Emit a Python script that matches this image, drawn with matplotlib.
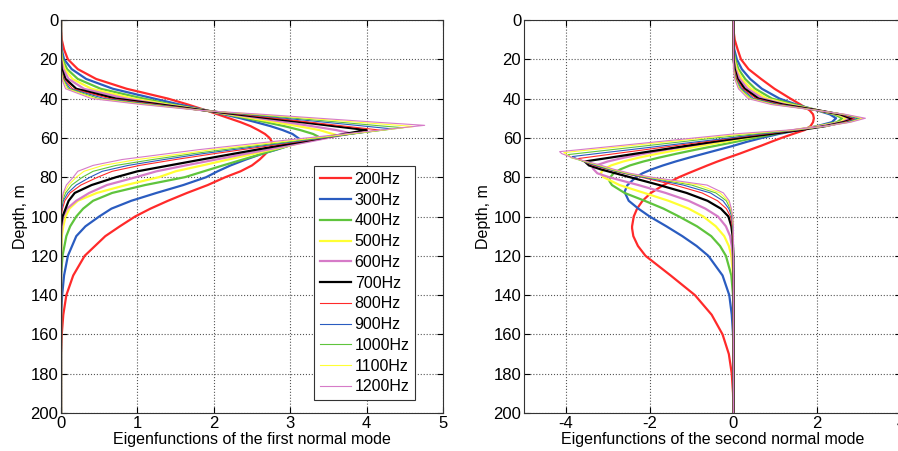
import matplotlib.pyplot as plt

plt.rcParams['font.family'] = ['Liberation Sans', 'DejaVu Sans']
plt.rcParams['axes.unicode_minus'] = False

freqs = ['200Hz', '300Hz', '400Hz', '500Hz', '600Hz', '700Hz',
         '800Hz', '900Hz', '1000Hz', '1100Hz', '1200Hz']
colors = ['#ff2a2a', '#2a5cc0', '#5fc43c', '#ffff33', '#d67bc8', '#000000',
          '#ff2a2a', '#2a5cc0', '#5fc43c', '#ffff33', '#d67bc8']
widths = [1.6, 1.6, 1.6, 1.6, 1.6, 1.6, 0.8, 0.8, 0.8, 0.8, 0.8]

# first mode, depth grid (m) and values
depth1 = [0, 5, 10, 15, 20, 25, 30, 35, 40, 43, 46, 48, 50, 52, 54, 56, 58, 60, 62, 64,
          66, 68, 71, 74, 77, 80, 84, 88, 92, 96, 100, 105, 110, 120, 130, 140, 150, 160, 170, 200]
m1_200 = [0, 0, 0.01, 0.04, 0.09, 0.22, 0.46, 0.86, 1.4, 1.66, 1.9, 2.05, 2.2, 2.35, 2.48, 2.58, 2.67, 2.73, 2.76, 2.75,
          2.72, 2.68, 2.6, 2.5, 2.35, 2.15, 1.92, 1.65, 1.4, 1.17, 0.97, 0.77, 0.58, 0.31, 0.16, 0.07, 0.03, 0.01, 0, 0]
m1_300 = [0, 0, 0, 0.01, 0.04, 0.14, 0.33, 0.68, 1.22, 1.55, 1.9, 2.13, 2.35, 2.55, 2.74, 2.9, 3.03, 3.1, 3.08, 2.98,
          2.82, 2.64, 2.42, 2.22, 2.05, 1.9, 1.6, 1.25, 0.92, 0.66, 0.5, 0.32, 0.2, 0.09, 0.04, 0.015, 0, 0, 0, 0]
m1_400 = [0, 0, 0, 0, 0.02, 0.08, 0.22, 0.52, 1.08, 1.45, 1.9, 2.17, 2.43, 2.68, 2.92, 3.13, 3.3, 3.36, 3.15, 2.98,
          2.81, 2.64, 2.38, 2.12, 1.87, 1.62, 1.1, 0.67, 0.42, 0.29, 0.2, 0.12, 0.07, 0.02, 0, 0, 0, 0, 0, 0]
m1_500 = [0, 0, 0, 0, 0.01, 0.05, 0.15, 0.4, 0.95, 1.4, 1.88, 2.2, 2.5, 2.8, 3.1, 3.38, 3.58, 3.43, 3.2, 2.98,
          2.75, 2.53, 2.19, 1.85, 1.5, 1.28, 0.85, 0.47, 0.22, 0.11, 0.06, 0.03, 0.01, 0, 0, 0, 0, 0, 0, 0]
m1_600 = [0, 0, 0, 0, 0, 0.03, 0.1, 0.3, 0.85, 1.33, 1.88, 2.25, 2.6, 2.95, 3.28, 3.6, 3.8, 3.49, 3.23, 2.96,
          2.7, 2.43, 2.03, 1.63, 1.25, 0.98, 0.6, 0.37, 0.2, 0.08, 0.03, 0.01, 0, 0, 0, 0, 0, 0, 0, 0]
m1_700 = [0, 0, 0, 0, 0, 0.01, 0.06, 0.2, 0.72, 1.3, 1.87, 2.3, 2.72, 3.15, 3.57, 4.0, 3.71, 3.42, 3.14, 2.85,
          2.56, 2.27, 1.84, 1.42, 1.0, 0.72, 0.4, 0.18, 0.1, 0.06, 0.02, 0, 0, 0, 0, 0, 0, 0, 0, 0]
m1_800 = [0, 0, 0, 0, 0, 0, 0.04, 0.15, 0.64, 1.25, 1.86, 2.35, 2.8, 3.26, 3.71, 4.17, 3.81, 3.45, 3.09, 2.73,
          2.37, 2.01, 1.5, 1.03, 0.67, 0.48, 0.26, 0.12, 0.05, 0.02, 0, 0, 0, 0, 0, 0, 0, 0, 0, 0]
m1_900 = [0, 0, 0, 0, 0, 0, 0.03, 0.12, 0.57, 1.2, 1.85, 2.42, 2.93, 3.45, 3.97, 4.21, 3.82, 3.43, 3.04, 2.64,
          2.25, 1.86, 1.35, 0.88, 0.54, 0.38, 0.2, 0.09, 0.03, 0.01, 0, 0, 0, 0, 0, 0, 0, 0, 0, 0]
m1_1000 = [0, 0, 0, 0, 0, 0, 0.02, 0.1, 0.5, 1.15, 1.84, 2.48, 3.06, 3.64, 4.22, 4.23, 3.81, 3.39, 2.97, 2.55,
           2.13, 1.73, 1.2, 0.72, 0.42, 0.28, 0.14, 0.06, 0.02, 0, 0, 0, 0, 0, 0, 0, 0, 0, 0, 0]
m1_1100 = [0, 0, 0, 0, 0, 0, 0.02, 0.08, 0.45, 1.1, 1.83, 2.56, 3.22, 3.88, 4.55, 4.22, 3.77, 3.32, 2.87, 2.42,
           1.97, 1.6, 1.0, 0.55, 0.3, 0.2, 0.1, 0.04, 0.01, 0, 0, 0, 0, 0, 0, 0, 0, 0, 0, 0]
m1_1200 = [0, 0, 0, 0, 0, 0, 0.01, 0.06, 0.4, 1.05, 1.82, 2.64, 3.38, 4.12, 4.69, 4.18, 3.7, 3.22, 2.74, 2.26,
           1.8, 1.4, 0.8, 0.42, 0.22, 0.16, 0.07, 0.03, 0.01, 0, 0, 0, 0, 0, 0, 0, 0, 0, 0, 0]
peak1_depth = [62, 60.5, 59.4, 58.5, 57.7, 56, 56, 55.4, 54.8, 54.2, 53.6]
peak1_value = [2.76, 3.12, 3.37, 3.6, 3.8, 4.0, 4.17, 4.33, 4.48, 4.62, 4.76]

# second mode
depth2 = [0, 5, 10, 15, 20, 25, 30, 35, 40, 43, 46, 48, 50, 52, 54, 56, 58, 60, 62, 64, 66, 68, 70,
          72, 74, 76, 78, 80, 84, 88, 92, 96, 100, 105, 110, 115, 120, 130, 140, 150, 160, 170, 180, 190, 200]
m2_200 = [0, 0, 0.03, 0.1, 0.18, 0.36, 0.66, 0.98, 1.36, 1.6, 1.82, 1.9, 1.92, 1.9, 1.84, 1.7, 1.42, 1.15, 0.9, 0.66,
          0.4, 0.15, -0.12, -0.38, -0.62, -0.85, -1.08, -1.3, -1.67, -1.97, -2.17, -2.3, -2.38, -2.42, -2.39, -2.28,
          -2.1, -1.5, -0.92, -0.52, -0.26, -0.11, -0.04, -0.01, 0]
m2_300 = [0, 0, 0, 0.02, 0.08, 0.2, 0.4, 0.68, 1.1, 1.5, 2.0, 2.3, 2.45, 2.35, 2.0, 1.55, 1.08, 0.68, 0.32, 0.0,
          -0.35, -0.7, -1.05, -1.38, -1.68, -1.95, -2.17, -2.33, -2.53, -2.6, -2.5, -2.27, -2.0, -1.6, -1.22, -0.88,
          -0.6, -0.26, -0.1, -0.04, -0.01, 0, 0, 0, 0]
m2_400 = [0, 0, 0, 0, 0.04, 0.12, 0.28, 0.52, 0.92, 1.45, 2.02, 2.4, 2.6, 2.47, 2.03, 1.5, 0.98, 0.5, 0.05, -0.42,
          -0.9, -1.35, -1.77, -2.15, -2.47, -2.7, -2.86, -2.94, -2.9, -2.6, -2.12, -1.67, -1.3, -0.87, -0.53, -0.32,
          -0.18, -0.05, -0.01, 0, 0, 0, 0, 0, 0]
m2_500 = [0, 0, 0, 0, 0.02, 0.08, 0.2, 0.42, 0.8, 1.35, 2.03, 2.47, 2.7, 2.55, 2.05, 1.45, 0.85, 0.3, -0.22, -0.77,
          -1.3, -1.8, -2.25, -2.63, -2.92, -3.1, -3.17, -3.1, -2.72, -2.13, -1.55, -1.07, -0.72, -0.42, -0.22, -0.11,
          -0.05, -0.01, 0, 0, 0, 0, 0, 0, 0]
m2_600 = [0, 0, 0, 0, 0.01, 0.05, 0.15, 0.34, 0.7, 1.25, 2.03, 2.52, 2.78, 2.6, 2.1, 1.45, 0.75, 0.15, -0.45, -1.03,
          -1.6, -2.12, -2.6, -3.0, -3.28, -3.36, -3.25, -2.97, -2.27, -1.62, -1.07, -0.67, -0.37, -0.18, -0.08, -0.04,
          -0.02, 0, 0, 0, 0, 0, 0, 0, 0]
m2_700 = [0, 0, 0, 0, 0, 0.03, 0.1, 0.27, 0.6, 1.18, 2.03, 2.55, 2.85, 2.62, 2.2, 1.6, 0.9, 0.18, -0.48, -1.1,
          -1.72, -2.33, -2.93, -3.55, -3.45, -3.17, -2.82, -2.47, -1.77, -1.12, -0.62, -0.3, -0.12, -0.05, -0.02, -0.01,
          0, 0, 0, 0, 0, 0, 0, 0, 0]
m2_800 = [0, 0, 0, 0, 0, 0.02, 0.08, 0.22, 0.54, 1.12, 2.02, 2.58, 2.9, 2.65, 2.2, 1.55, 0.75, 0.0, -0.7, -1.41,
          -2.11, -2.82, -3.6, -3.58, -3.35, -3.0, -2.62, -2.2, -1.4, -0.75, -0.38, -0.17, -0.07, -0.03, -0.01, 0,
          0, 0, 0, 0, 0, 0, 0, 0, 0]
m2_900 = [0, 0, 0, 0, 0, 0.01, 0.06, 0.19, 0.48, 1.06, 2.01, 2.61, 2.97, 2.7, 2.2, 1.5, 0.65, -0.08, -0.88, -1.67,
          -2.47, -3.27, -3.82, -3.58, -3.3, -2.98, -2.6, -2.15, -1.2, -0.55, -0.25, -0.11, -0.04, -0.02, 0, 0,
          0, 0, 0, 0, 0, 0, 0, 0, 0]
m2_1000 = [0, 0, 0, 0, 0, 0.01, 0.05, 0.16, 0.43, 1.0, 2.0, 2.63, 3.03, 2.75, 2.22, 1.45, 0.5, -0.42, -1.25, -2.08,
           -2.91, -3.74, -3.88, -3.56, -3.24, -2.94, -2.57, -2.08, -1.0, -0.42, -0.17, -0.08, -0.03, -0.01, 0, 0,
           0, 0, 0, 0, 0, 0, 0, 0, 0]
m2_1100 = [0, 0, 0, 0, 0, 0, 0.04, 0.14, 0.39, 0.95, 1.99, 2.65, 3.09, 2.78, 2.22, 1.4, 0.25, -0.68, -1.58, -2.48,
           -3.38, -4.0, -3.87, -3.53, -3.2, -2.9, -2.52, -2.02, -0.82, -0.32, -0.13, -0.06, -0.02, 0, 0, 0,
           0, 0, 0, 0, 0, 0, 0, 0, 0]
m2_1200 = [0, 0, 0, 0, 0, 0, 0.03, 0.12, 0.35, 0.9, 1.98, 2.67, 3.15, 2.8, 2.22, 1.3, 0.0, -0.92, -1.84, -2.76,
           -3.68, -4.1, -3.85, -3.5, -3.15, -2.85, -2.47, -1.95, -0.63, -0.24, -0.1, -0.05, -0.02, 0, 0, 0,
           0, 0, 0, 0, 0, 0, 0, 0, 0]
peak2_depth = [50, 50, 50, 50, 50, 50.5, 50.3, 50.2, 50, 50, 50]
peak2_value = [1.92, 2.45, 2.6, 2.7, 2.78, 2.85, 2.9, 2.97, 3.03, 3.09, 3.15]
trough2_depth = [106, 87.5, 82, 78, 75.5, 72, 70.5, 69.5, 68.5, 67.5, 67]
trough2_value = [-2.42, -2.6, -2.96, -3.17, -3.36, -3.55, -3.7, -3.85, -3.95, -4.05, -4.15]

mode1 = [m1_200, m1_300, m1_400, m1_500, m1_600, m1_700, m1_800, m1_900, m1_1000, m1_1100, m1_1200]
mode2 = [m2_200, m2_300, m2_400, m2_500, m2_600, m2_700, m2_800, m2_900, m2_1000, m2_1100, m2_1200]


def merge(grid, vals, extra):
    # put the read extremum into the curve, drop grid points too close to it
    pts = [(d, v) for d, v in zip(grid, vals) if all(abs(d - e[0]) > 0.55 for e in extra)]
    pts += extra
    pts.sort()
    return [p[0] for p in pts], [p[1] for p in pts]


fig = plt.figure(figsize=(8.98, 4.51), dpi=100)
ax1 = fig.add_axes([61 / 898, 1 - 413 / 451, 382 / 898, 393 / 451])
ax2 = fig.add_axes([524 / 898, 1 - 413 / 451, 377 / 898, 393 / 451])

for i in range(len(freqs)):
    d, x = merge(depth1, mode1[i], [(peak1_depth[i], peak1_value[i])])
    ax1.plot(x, d, color=colors[i], lw=widths[i], label=freqs[i])
    d, x = merge(depth2, mode2[i], [(peak2_depth[i], peak2_value[i]), (trough2_depth[i], trough2_value[i])])
    ax2.plot(x, d, color=colors[i], lw=widths[i])

for ax in (ax1, ax2):
    ax.set_ylim(200, 0)
    ax.set_yticks(range(0, 201, 20))
    ax.grid(True, linestyle=':', color='#555555', lw=0.8)
    ax.tick_params(direction='in', top=True, right=True, labelsize=12, length=4, pad=2)
    ax.set_ylabel('Depth, m', fontsize=11.5, labelpad=2)
    for s in ax.spines.values():
        s.set_color('#333333')

ax1.set_xlim(0, 5)
ax1.set_xticks(range(0, 6))
ax1.set_xlabel('Eigenfunctions of the first normal mode', fontsize=11.5, labelpad=1)
ax2.set_xlim(-5, 4)
ax2.set_xticks([-4, -2, 0, 2, 4])
ax2.set_xlabel('Eigenfunctions of the second normal mode', fontsize=11.5, labelpad=1)

leg = ax1.legend(loc='lower right', bbox_to_anchor=(0.927, 0.033), borderaxespad=0,
                 fontsize=11.5, handlelength=2.0, handletextpad=0.2, labelspacing=0.36,
                 fancybox=False, edgecolor='#333333', framealpha=1, borderpad=0.35)
leg.get_frame().set_linewidth(0.8)

fig.savefig('out.png', dpi=100)
